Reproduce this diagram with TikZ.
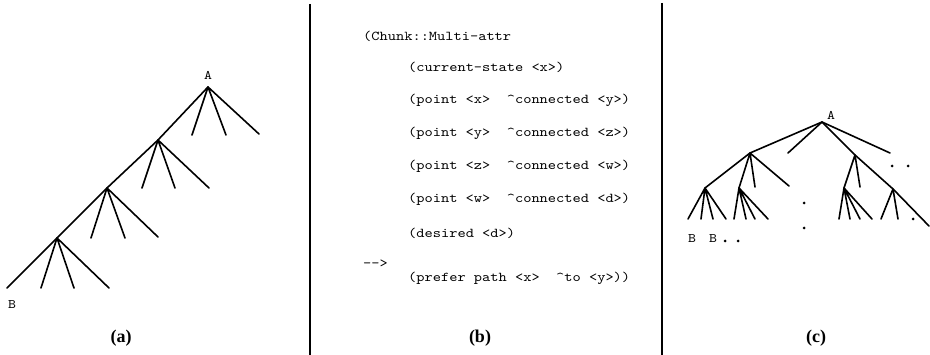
\documentclass[tikz,border=0pt]{standalone}
\usepackage{fontspec}
\setmainfont{Liberation Serif}
\newfontfamily\codefont{lmmono10-regular.otf}[FakeStretch=1.16]
\newcommand\crt{\textasciicircum}
\begin{document}
\begin{tikzpicture}[x=1pt,y=-1pt,
  tline/.style={line width=1.6pt,line cap=round},
  divider/.style={line width=2.6pt},
  codeline/.style={anchor=west,inner sep=0pt,font=\fontsize{13.5}{16}\selectfont\codefont},
  treelabel/.style={inner sep=0pt,font=\fontsize{13}{15}\selectfont\codefont},
  caption/.style={inner sep=0pt,font=\fontsize{18}{20}\selectfont\bfseries},
  dotmark/.style={fill=black}]
\useasboundingbox (0,0) rectangle (930,355);

% ---------- (a) ----------
\coordinate (a1) at (208,87);
\coordinate (a2) at (158,140);
\coordinate (a3) at (107,188);
\coordinate (a4) at (57,238);
\coordinate (a1x) at (192,135);
\coordinate (a1y) at (226,135);
\coordinate (a1z) at (259,134);
\coordinate (a2x) at (142,188);
\coordinate (a2y) at (175,188);
\coordinate (a2z) at (209,188);
\coordinate (a3x) at (91,238);
\coordinate (a3y) at (125,238);
\coordinate (a3z) at (158,237);
\coordinate (a4w) at (7,288);
\coordinate (a4x) at (41,288);
\coordinate (a4y) at (74,288);
\coordinate (a4z) at (109,288);
\draw[tline] (a1) -- (a2) -- (a3) -- (a4) -- (a4w);
\draw[tline] (a1) -- (a1x) (a1) -- (a1y) (a1) -- (a1z);
\draw[tline] (a2) -- (a2x) (a2) -- (a2y) (a2) -- (a2z);
\draw[tline] (a3) -- (a3x) (a3) -- (a3y) (a3) -- (a3z);
\draw[tline] (a4) -- (a4x) (a4) -- (a4y) (a4) -- (a4z);
\node[treelabel] (aA) at (208,75) {A};
\node[treelabel] (aB) at (12,305) {B};
\node[caption] (capa) at (121,338) {(a)};

% ---------- dividers ----------
\coordinate (d1t) at (310,4);
\coordinate (d1b) at (310,355);
\coordinate (d2t) at (662,3);
\coordinate (d2b) at (662,355);
\draw[divider] (d1t) -- (d1b);
\draw[divider] (d2t) -- (d2b);

% ---------- (b) ----------
\node[codeline] (b1) at (363,36) {(Chunk::Multi-attr};
\node[codeline] (b2) at (408,67) {(current-state <x>)};
\node[codeline] (b3) at (408,100) {(point <x>~~\crt{}connected <y>)};
\node[codeline] (b4) at (408,133) {(point <y>~~\crt{}connected <z>)};
\node[codeline] (b5) at (408,166) {(point <z>~~\crt{}connected <w>)};
\node[codeline] (b6) at (408,199) {(point <w>~~\crt{}connected <d>)};
\node[codeline] (b7) at (408,233) {(desired <d>)};
\node[codeline] (b8) at (363,264) {-{}->};
\node[codeline] (b9) at (408,278) {(prefer path <x>~~\crt{}to <y>))};
\node[caption] (capb) at (480,338) {(b)};

% ---------- (c) ----------
\coordinate (c0) at (822,122);
\coordinate (cL1) at (750,153);
\coordinate (cM) at (788,153);
\coordinate (cR) at (890,153);
\coordinate (cR1) at (855,155);
\coordinate (cR2) at (893,189);
\coordinate (cEnd) at (929,226);
\coordinate (cL2) at (705,188);
\coordinate (cL1b) at (739,188);
\coordinate (cL1c) at (755,187);
\coordinate (cL1d) at (789,186);
\coordinate (cR1a) at (844,188);
\coordinate (cR1b) at (860,187);
% leaves
\coordinate (l1) at (688,219);
\coordinate (l2) at (701,219);
\coordinate (l3) at (713,219);
\coordinate (l4) at (726,219);
\coordinate (l5) at (734,219);
\coordinate (l6) at (746,219);
\coordinate (l7) at (755,219);
\coordinate (l8) at (768,219);
\coordinate (r1) at (839,219);
\coordinate (r2) at (850,219);
\coordinate (r3) at (860,219);
\coordinate (r4) at (872,219);
\coordinate (r5) at (881,219);
\coordinate (r6) at (898,219);
\draw[tline] (c0) -- (cL1) -- (cL2);
\draw[tline] (c0) -- (cM) (c0) -- (cR);
\draw[tline] (c0) -- (cR1) -- (cR2) -- (cEnd);
\draw[tline] (cL1) -- (cL1b) (cL1) -- (cL1c) (cL1) -- (cL1d);
\draw[tline] (cL2) -- (l1) (cL2) -- (l2) (cL2) -- (l3) (cL2) -- (l4);
\draw[tline] (cL1b) -- (l5) (cL1b) -- (l6) (cL1b) -- (l7) (cL1b) -- (l8);
\draw[tline] (cR1) -- (cR1a) (cR1) -- (cR1b);
\draw[tline] (cR1a) -- (r1) (cR1a) -- (r2) (cR1a) -- (r3) (cR1a) -- (r4);
\draw[tline] (cR2) -- (r5) (cR2) -- (r6);
\node[treelabel] (cA) at (831,115) {A};
\node[treelabel] (cB1) at (692,239) {B};
\node[treelabel] (cB2) at (713,239) {B};
\fill[dotmark] (725,241) circle (1.5);
\fill[dotmark] (738,241) circle (1.5);
\fill[dotmark] (804,203) circle (1.5);
\fill[dotmark] (804,228) circle (1.5);
\fill[dotmark] (892,166) circle (1.5);
\fill[dotmark] (908,166) circle (1.5);
\fill[dotmark] (913,219) circle (1.5);
\node[caption] (capc) at (816,338) {(c)};
\end{tikzpicture}
\end{document}
